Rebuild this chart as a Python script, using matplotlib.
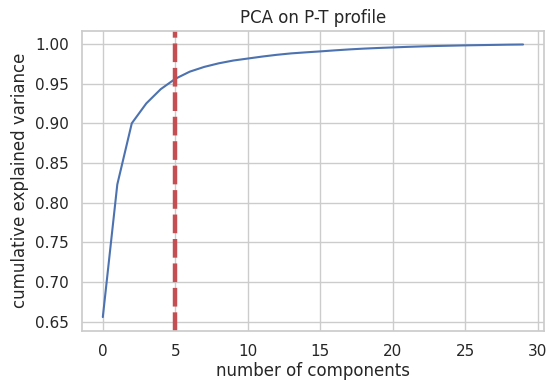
import matplotlib
matplotlib.use("Agg")
import matplotlib.pyplot as plt
import seaborn as sns
import numpy as np

sns.set_theme(style="whitegrid")

components = np.arange(30)
cum_var = [0.656, 0.823, 0.900, 0.925, 0.943, 0.956, 0.965, 0.971, 0.9755, 0.979,
           0.9815, 0.9840, 0.9862, 0.9880, 0.9893, 0.9905, 0.9918, 0.9930, 0.9940, 0.9948,
           0.9955, 0.9962, 0.9968, 0.9973, 0.9977, 0.9981, 0.9984, 0.9987, 0.9990, 0.9992]
cutoff = 5

fig, ax = plt.subplots(figsize=(5.49, 3.81), dpi=100)
fig.subplots_adjust(left=0.149, right=0.991, top=0.919, bottom=0.132)

ax.plot(components, cum_var, color="#4c72b0", linewidth=1.5)
ax.axvline(cutoff, color="r", linewidth=3.2, linestyle=(0, (4.2, 1.3)))

ax.set_title("PCA on P-T profile", fontsize=12)
ax.set_xlabel("number of components", fontsize=12, labelpad=2)
ax.set_ylabel("cumulative explained variance", fontsize=12)
ax.tick_params(labelsize=11)

fig.savefig("out.png")
